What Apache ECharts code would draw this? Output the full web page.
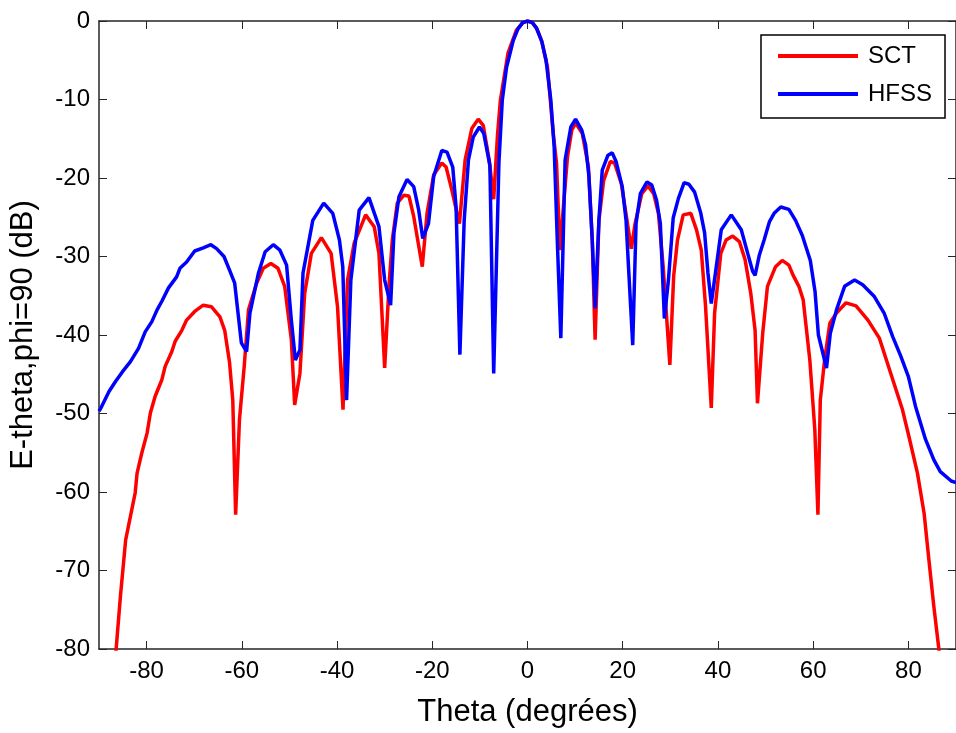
<!DOCTYPE html>
<html>
<head>
<meta charset="utf-8">
<script src="https://cdn.jsdelivr.net/npm/echarts@6/dist/echarts.min.js"></script>
<style>html,body{margin:0;padding:0;background:#fff;}#c{width:956px;height:733px;}</style>
</head>
<body>
<div id="c"></div>
<script>
// x tick labels and y ticks
const xTicks = [-80, -60, -40, -20, 0, 20, 40, 60, 80];
const seriesNames = ['SCT', 'HFSS'];

// SCT (red) theta (deg) and values (dB)
const sctTheta = [-87.2,-86.4,-85.5,-84.4,-83.4,-82.4,-82.0,-81.0,-79.9,-79.2,-78.2,-76.8,-76.1,-74.7,-74.0,-72.6,-71.6,-69.9,-68.1,-66.4,-64.6,-63.6,-62.6,-61.9,-61.3,-60.5,-59.5,-58.6,-56.9,-55.5,-53.9,-52.4,-51.0,-49.6,-48.9,-47.8,-46.8,-45.4,-43.3,-41.25,-39.9,-38.75,-37.8,-36.4,-34.0,-32.2,-31.2,-30.0,-29.1,-28.4,-27.35,-26.0,-24.9,-23.9,-22.1,-21.1,-19.7,-18.0,-17.1,-15.9,-14.3,-13.1,-11.7,-10.35,-9.3,-8.05,-7.1,-6.3,-5.7,-4.1,-2.35,-1,0,1,2,3,4.2,5.4,6.1,6.8,8.4,9.3,10.1,11.5,12.8,13.6,14.2,15.0,16.0,17.4,18.3,19.7,20.9,21.8,22.6,24.0,25.3,26.5,27.5,28.5,29.9,30.7,31.5,32.7,34.3,35.5,36.5,37.4,38.6,39.3,40.6,41.7,43.1,44.5,45.7,46.9,47.8,48.3,49.4,50.4,52.1,53.5,54.9,55.8,57.0,57.9,59.3,60.35,61.0,61.5,62.4,63.5,64.9,66.9,69.0,71.5,73.9,76.3,78.75,80.1,81.9,83.3,84.3,85.35,86.4,87.2];
const sctDb = [-86,-80,-73.3,-66.1,-63.1,-60.1,-57.6,-55.0,-52.5,-49.9,-47.8,-45.7,-44.0,-42.1,-40.8,-39.4,-38.1,-37.0,-36.2,-36.4,-37.7,-39.4,-43.4,-48.3,-62.9,-50.8,-44.0,-36.8,-33.4,-31.5,-30.9,-31.5,-33.8,-40.6,-48.9,-44.9,-34.7,-29.6,-27.6,-29.6,-36.4,-49.5,-33.0,-28.3,-24.7,-26.2,-29.6,-44.2,-33.8,-27.9,-23.2,-22.2,-22.3,-24.9,-31.3,-24.5,-19.6,-18.1,-18.6,-21.5,-25.8,-17.7,-13.7,-12.5,-13.3,-17.7,-22.7,-14.5,-10.1,-4.1,-1.2,-0.2,0,-0.2,-1.0,-2.6,-5.9,-14.3,-18.1,-29.2,-17.3,-13.9,-13.0,-14.3,-18.6,-27.9,-40.6,-25.4,-20.3,-17.9,-18.1,-20.7,-25.4,-29.0,-25.8,-22.0,-21.0,-22.0,-24.5,-31.3,-43.8,-32.5,-27.9,-24.7,-24.5,-26.6,-29.2,-36.4,-49.3,-37.2,-29.6,-27.9,-27.4,-28.1,-30.4,-34.7,-39.4,-48.7,-39.8,-33.8,-31.3,-30.5,-31.1,-32.4,-33.8,-35.5,-43.2,-52.1,-62.9,-48.3,-43.2,-38.5,-37.2,-35.9,-36.3,-38.1,-40.4,-44.9,-49.5,-52.9,-57.6,-62.7,-68.6,-74.6,-80,-86];

// HFSS (blue) theta (deg) and values (dB)
const hfssTheta = [-90,-89.6,-87.9,-86.5,-85.1,-83.4,-81.7,-80.3,-78.9,-77.8,-76.8,-75.4,-73.7,-73.0,-71.6,-69.9,-68.1,-66.5,-65.3,-63.75,-62.6,-61.5,-60.8,-60.1,-59.0,-58.3,-56.5,-55.1,-53.4,-52.0,-50.6,-49.6,-48.75,-47.8,-47.15,-45.1,-42.8,-40.9,-39.5,-38.8,-38.0,-37.1,-35.35,-33.3,-31.2,-30.0,-28.75,-28.05,-27.0,-25.3,-23.9,-22.85,-22.0,-20.8,-19.7,-18.0,-16.9,-15.7,-15.0,-14.2,-13.3,-12.4,-11.4,-10.1,-9.2,-7.9,-7.1,-6.0,-5.3,-4.4,-3,-2,-1,0,1,1.8,3,3.9,4.9,5.6,6.3,7.0,7.9,9.1,10.1,11.4,12.2,12.9,13.6,14.2,15.0,15.7,16.9,17.8,18.6,19.9,20.7,21.25,22.1,22.8,23.7,25.1,26.1,27.1,27.9,28.75,29.6,30.6,31.7,32.9,33.9,35.1,36.4,37.2,37.9,38.6,39.65,40.7,42.8,44.9,46.25,47.3,47.8,48.7,49.7,50.8,51.8,53.2,54.9,56.3,57.7,59.4,60.4,61.1,62.8,63.6,64.9,66.6,68.7,70.4,72.85,74.9,76.7,78.4,80.0,81.5,83.6,85.35,86.7,89.0,90];
const hfssDb = [-49.7,-49.3,-47.2,-45.9,-44.7,-43.4,-41.7,-39.6,-38.3,-36.8,-35.7,-34.0,-32.6,-31.5,-30.7,-29.3,-28.9,-28.5,-29.0,-30.0,-31.7,-33.4,-37.2,-41.0,-42.1,-37.2,-32.1,-29.4,-28.5,-29.2,-31.1,-38.1,-43.2,-41.9,-32.1,-25.4,-23.2,-24.5,-27.9,-31.3,-48.3,-33.0,-24.1,-22.5,-26.2,-33.0,-36.2,-27.0,-22.4,-20.2,-21.1,-24.1,-27.7,-25.8,-19.8,-16.5,-16.7,-18.6,-23.7,-42.5,-25.4,-17.7,-14.8,-13.5,-14.3,-18.4,-44.9,-18.0,-10.1,-5.9,-2.5,-1.0,-0.2,0,-0.2,-0.8,-2.6,-5.0,-10.1,-16.0,-28.7,-40.4,-17.7,-13.5,-12.5,-13.9,-15.8,-19.8,-27.9,-36.6,-25.4,-19.0,-17.1,-16.8,-17.9,-21.1,-25.4,-31.7,-41.3,-25.8,-22.0,-20.5,-20.9,-22.8,-25.8,-37.9,-33.0,-25.1,-22.6,-20.6,-20.8,-21.8,-24.5,-27.0,-32.1,-36.0,-31.3,-26.6,-24.7,-26.6,-29.6,-31.9,-32.4,-29.8,-27.9,-25.6,-24.5,-23.7,-24.0,-25.4,-27.3,-30.5,-34.5,-40.0,-44.2,-39.8,-36.8,-33.8,-33.0,-33.6,-35.1,-37.2,-40.2,-42.7,-45.3,-49.1,-53.3,-55.9,-57.4,-58.6,-58.8];

const pair = (xs, ys) => xs.map((x, i) => [x, ys[i]]);

const FONT = 'Liberation Sans, Arial, Helvetica, sans-serif';
const AX = '#262626';

const chart = echarts.init(document.getElementById('c'), null, {renderer: 'canvas'});
chart.setOption({
  animation: false,
  backgroundColor: '#ffffff',
  grid: {left: 96, top: 21, width: 864, height: 629, containLabel: false},
  legend: {
    data: seriesNames,
    orient: 'vertical',
    left: 761, top: 35,
    padding: [9, 13, 12, 17],
    itemGap: 14,
    itemWidth: 80,
    itemHeight: 4,
    icon: 'rect',
    backgroundColor: '#ffffff',
    borderColor: '#000000',
    borderWidth: 1.5,
    borderRadius: 0,
    textStyle: {fontFamily: FONT, fontSize: 24, color: '#000', padding: [0, 0, 0, 5]}
  },
  xAxis: [{
    type: 'value', min: -90, max: 90, position: 'bottom',
    name: 'Theta (degrées)', nameLocation: 'middle', nameGap: 48,
    nameTextStyle: {fontFamily: FONT, fontSize: 31, color: '#000'},
    axisLine: {show: true, onZero: false, lineStyle: {color: AX, width: 1.5}},
    axisTick: {show: true, inside: true, length: 8, customValues: xTicks, lineStyle: {color: AX, width: 1}},
    axisLabel: {show: true, customValues: xTicks, fontFamily: FONT, fontSize: 24, color: '#000', margin: 10},
    splitLine: {show: false}
  }, {
    type: 'value', min: -90, max: 90, position: 'top',
    axisLine: {show: true, onZero: false, lineStyle: {color: AX, width: 1.5}},
    axisTick: {show: true, inside: true, length: 8, customValues: xTicks, lineStyle: {color: AX, width: 1}},
    axisLabel: {show: false},
    splitLine: {show: false}
  }],
  yAxis: [{
    type: 'value', min: -80, max: 0, interval: 10, position: 'left',
    name: 'E-theta,phi=90 (dB)', nameLocation: 'middle', nameGap: 60, nameRotate: 90,
    nameTextStyle: {fontFamily: FONT, fontSize: 31, color: '#000'},
    axisLine: {show: true, onZero: false, lineStyle: {color: AX, width: 1.5}},
    axisTick: {show: true, inside: true, length: 8, lineStyle: {color: AX, width: 1}},
    axisLabel: {show: true, fontFamily: FONT, fontSize: 24, color: '#000', margin: 9},
    splitLine: {show: false}
  }, {
    type: 'value', min: -80, max: 0, interval: 10, position: 'right',
    axisLine: {show: true, onZero: false, lineStyle: {color: AX, width: 1.5}},
    axisTick: {show: true, inside: true, length: 8, lineStyle: {color: AX, width: 1}},
    axisLabel: {show: false},
    splitLine: {show: false}
  }],
  series: [{
    name: seriesNames[0], type: 'line', xAxisIndex: 0, yAxisIndex: 0,
    data: pair(sctTheta, sctDb), symbol: 'none', clip: true,
    lineStyle: {color: '#ff0000', width: 3.5}, itemStyle: {color: '#ff0000'}, z: 2
  }, {
    name: seriesNames[1], type: 'line', xAxisIndex: 0, yAxisIndex: 0,
    data: pair(hfssTheta, hfssDb), symbol: 'none', clip: true,
    lineStyle: {color: '#0000ff', width: 3.5}, itemStyle: {color: '#0000ff'}, z: 3
  }]
});
</script>
</body>
</html>
